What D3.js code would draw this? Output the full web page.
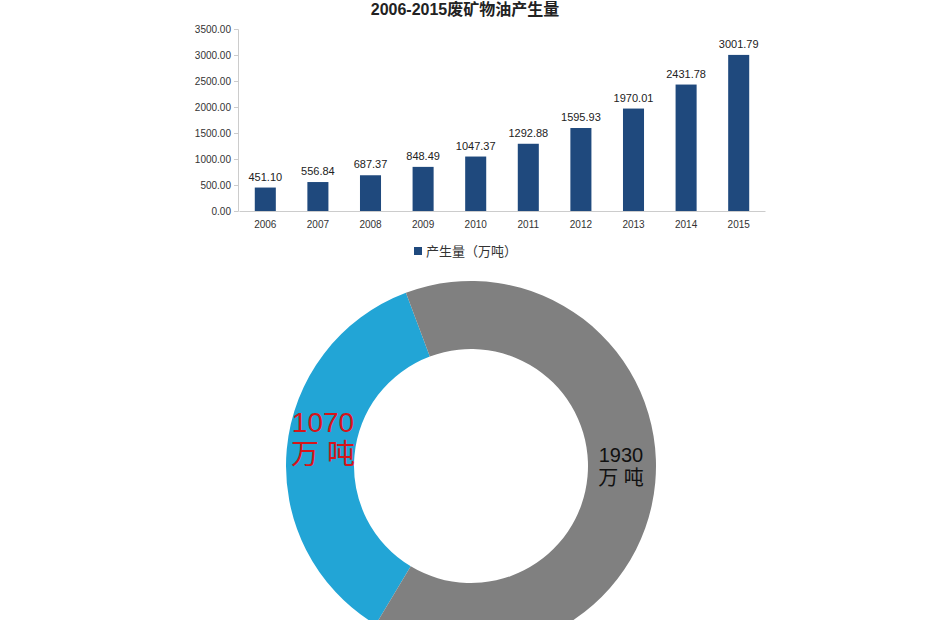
<!DOCTYPE html>
<html><head><meta charset="utf-8">
<script src="https://cdn.jsdelivr.net/npm/d3@7"></script>
<style>body{margin:0;background:#fff}svg{display:block}</style>
</head><body><svg id="c" width="930" height="620"></svg>
<script>
const years = ["2006","2007","2008","2009","2010","2011","2012","2013","2014","2015"];
const output = [451.10,556.84,687.37,848.49,1047.37,1292.88,1595.93,1970.01,2431.78,3001.79];
const yTicks = [0,500,1000,1500,2000,2500,3000,3500];
const donutLabels = ["1070","1930"];
const donutValues = [1070,1930];

const svg = d3.select("#c");
const font = "'Liberation Sans', 'Noto Sans CJK SC', sans-serif";

// title (cut off at the top in the original)
svg.append("text").attr("x", 465).attr("y", 15).attr("text-anchor", "middle")
  .attr("font-family", font).attr("font-weight", "bold").attr("font-size", 16)
  .attr("fill", "#222").text("2006-2015废矿物油产生量");

// --- Bars ---
const x = d3.scaleBand().domain(years).range([239, 765]).paddingInner(0.6).paddingOuter(0.3);
const y = d3.scaleLinear().domain([0, 3500]).range([211, 29]);

svg.append("g").attr("transform", "translate(238,0)")
  .call(d3.axisLeft(y).tickValues(yTicks).tickFormat(d3.format(".2f")).tickSize(4))
  .call(g => g.selectAll("text").attr("font-family", font).attr("font-size", 10).attr("fill", "#333"))
  .call(g => g.selectAll("line,path").attr("stroke", "#ccc"));

svg.append("g").attr("transform", "translate(0,211)")
  .call(d3.axisBottom(x).tickSize(0).tickPadding(10))
  .call(g => g.selectAll("text").attr("font-family", font).attr("font-size", 10).attr("fill", "#333"))
  .call(g => g.selectAll("path").attr("stroke", "#ccc"));

svg.append("g").selectAll("rect").data(output).enter().append("rect")
  .attr("x", (d, i) => x(years[i]))
  .attr("y", d => y(d))
  .attr("width", x.bandwidth())
  .attr("height", d => y(0) - y(d))
  .attr("fill", "#1f497d");

svg.append("g").selectAll("text").data(output).enter().append("text")
  .attr("x", (d, i) => x(years[i]) + x.bandwidth() / 2)
  .attr("y", d => y(d) - 7)
  .attr("text-anchor", "middle")
  .attr("font-family", font).attr("font-size", 11).attr("fill", "#222")
  .text(d => d.toFixed(2));

// legend
svg.append("rect").attr("x", 414).attr("y", 247).attr("width", 8).attr("height", 8).attr("fill", "#1f497d");
svg.append("text").attr("x", 426).attr("y", 256).attr("font-family", font).attr("font-size", 13)
  .attr("fill", "#333").text("产生量（万吨）");

// --- Donut ---
const cx = 471, cy = 466;
const pie = d3.pie().sort(null).value(d => d)
  .startAngle(-149 * Math.PI / 180).endAngle(211 * Math.PI / 180);
const arcs = pie(donutValues);
const arc = d3.arc().innerRadius(117).outerRadius(185);
const colors = ["#22a5d6", "#808080"];

const dg = svg.append("g").attr("transform", `translate(${cx},${cy})`);
dg.selectAll("path").data(arcs).enter().append("path")
  .attr("d", arc).attr("fill", (d, i) => colors[i]);

const labelPos = [[-148, -34], [150, -4]];
const labelColor = ["#d7141a", "#111"];
const labelSize = [28, 20];
arcs.forEach((a, i) => {
  const t = dg.append("text").attr("text-anchor", "middle")
    .attr("font-family", font).attr("fill", labelColor[i]).attr("font-size", labelSize[i]);
  t.append("tspan").attr("x", labelPos[i][0]).attr("y", labelPos[i][1]).text(donutLabels[i]);
  t.append("tspan").attr("x", labelPos[i][0]).attr("y", labelPos[i][1] + labelSize[i] * 1.15).text("万 吨");
});
</script></body></html>
